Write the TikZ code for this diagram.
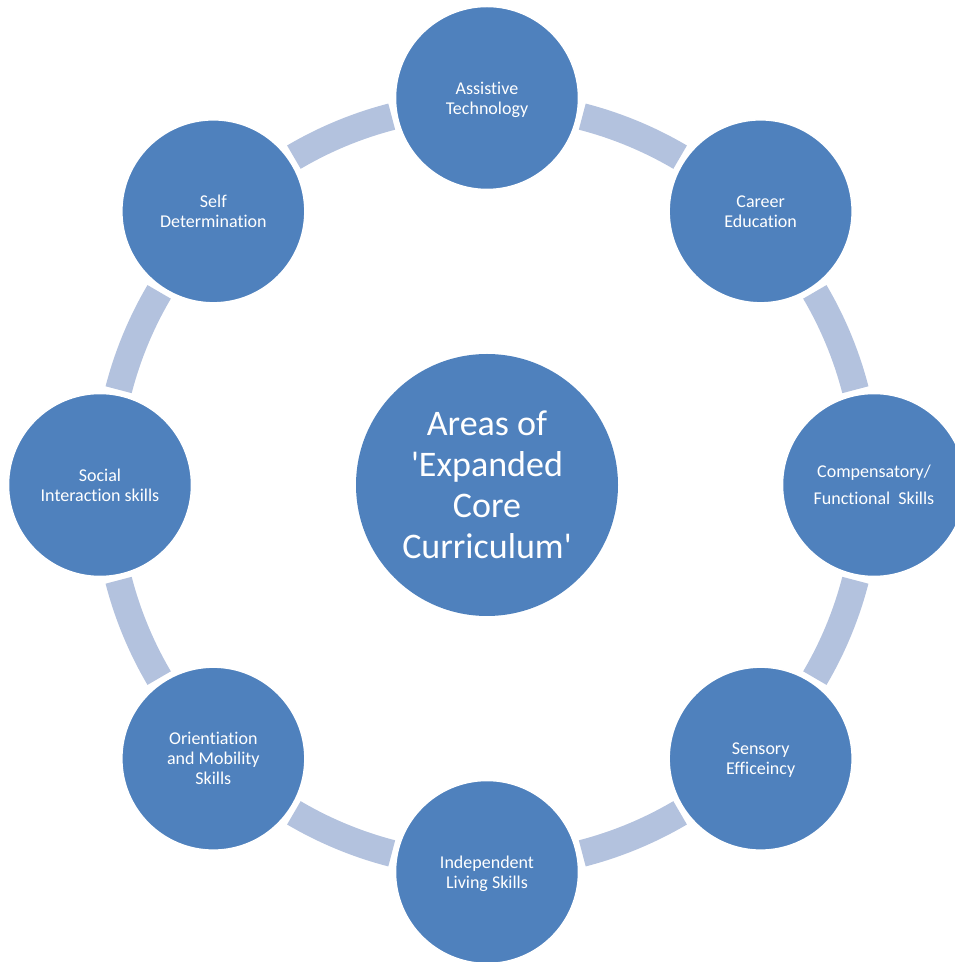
\documentclass[tikz,border=0pt]{standalone}
\usepackage{fontspec}
\setmainfont{Carlito}[Ligatures={NoCommon}]
\usetikzlibrary{calc}
\definecolor{nodeblue}{RGB}{79,129,189}
\definecolor{bandblue}{RGB}{179,194,222}
\begin{document}
\begin{tikzpicture}[x=1pt,y=1pt,
  outer/.style={circle, fill=nodeblue, draw=white, line width=1.5pt, minimum size=183pt, inner sep=0pt, text=white, align=center, text depth=0pt, font=\fontsize{18}{20}\selectfont},
  hub/.style={circle, fill=nodeblue, minimum size=262pt, inner sep=0pt, text=white, align=center, font=\fontsize{36}{41}\selectfont},
  band/.style={draw=bandblue, line width=27pt}]
\useasboundingbox (0,0) rectangle (955,962);
\clip (0,0) rectangle (955,962);
\coordinate (O) at (487,477);
\foreach \a [evaluate=\a as \s using \a-14.5, evaluate=\a as \e using \a-30.5] in {90,45,...,-225}
  {\draw[band] ($(O)+(\s:380.5pt)$) arc[start angle=\s, end angle=\e, radius=380.5pt];}
\node[hub] (hub) at (O) {Areas of\\\textquotesingle Expanded\\Core\\Curriculum\textquotesingle};
\node[outer] (at) at ($(O)+(90:387pt)$) {Assistive\\Technology};
\node[outer] (ce) at ($(O)+(45:387pt)$) {Career\\Education};
\node[outer, font=\fontsize{18}{27}\selectfont] (cf) at ($(O)+(0:387pt)$) {Compensatory/\\Functional\ \ Skills};
\node[outer] (se) at ($(O)+(-45:387pt)$) {Sensory\\Efficeincy};
\node[outer] (il) at ($(O)+(-90:387pt)$) {Independent\\Living Skills};
\node[outer] (om) at ($(O)+(-135:387pt)$) {Orientiation\\and Mobility\\Skills};
\node[outer] (si) at ($(O)+(180:387pt)$) {Social\\Interaction skills};
\node[outer] (sd) at ($(O)+(135:387pt)$) {Self\\Determination};
\end{tikzpicture}
\end{document}
